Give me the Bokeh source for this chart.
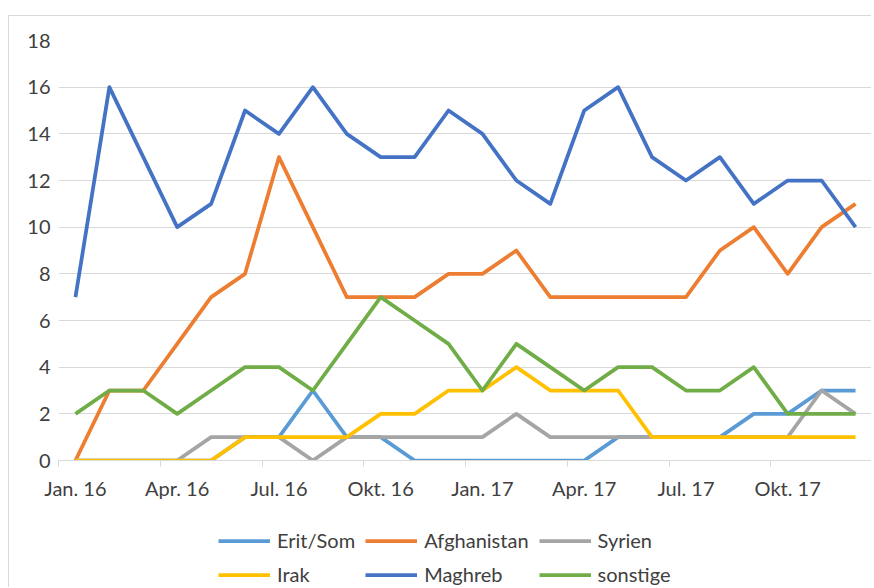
from bokeh.plotting import figure
from bokeh.models import FixedTicker, Legend, LegendItem, Range1d, Spacer
from bokeh.layouts import column, row
from bokeh.embed import file_html
from bokeh.resources import INLINE

months = ["Jan. 16", "Feb. 16", "Mär. 16", "Apr. 16", "Mai. 16", "Jun. 16",
          "Jul. 16", "Aug. 16", "Sep. 16", "Okt. 16", "Nov. 16", "Dez. 16",
          "Jan. 17", "Feb. 17", "Mär. 17", "Apr. 17", "Mai. 17", "Jun. 17",
          "Jul. 17", "Aug. 17", "Sep. 17", "Okt. 17", "Nov. 17", "Dez. 17"]

erit_som    = [0, 0, 0, 0, 0, 1, 1, 3, 1, 1, 0, 0, 0, 0, 0, 0, 1, 1, 1, 1, 2, 2, 3, 3]
afghanistan = [0, 3, 3, 5, 7, 8, 13, 10, 7, 7, 7, 8, 8, 9, 7, 7, 7, 7, 7, 9, 10, 8, 10, 11]
syrien      = [0, 0, 0, 0, 1, 1, 1, 0, 1, 1, 1, 1, 1, 2, 1, 1, 1, 1, 1, 1, 1, 1, 3, 2]
irak        = [0, 0, 0, 0, 0, 1, 1, 1, 1, 2, 2, 3, 3, 4, 3, 3, 3, 1, 1, 1, 1, 1, 1, 1]
maghreb     = [7, 16, 13, 10, 11, 15, 14, 16, 14, 13, 13, 15, 14, 12, 11, 15, 16, 13, 12, 13, 11, 12, 12, 10]
sonstige    = [2, 3, 3, 2, 3, 4, 4, 3, 5, 7, 6, 5, 3, 5, 4, 3, 4, 4, 3, 3, 4, 2, 2, 2]

series_names = ["Erit/Som", "Afghanistan", "Syrien", "Irak", "Maghreb", "sonstige"]
series_values = [erit_som, afghanistan, syrien, irak, maghreb, sonstige]
colors = ["#5B9BD5", "#ED7D31", "#A5A5A5", "#FFC000", "#4472C4", "#70AD47"]

y_ticks = list(range(0, 19, 2))
x_idx = list(range(len(months)))
label_idx = x_idx[::3]

FONT = "Lato"
FS = "20px"
TXT = "#404040"
BORDER = "#d9d9d9"
LW = 3.75
W = 863

p = figure(width=W, height=499, output_backend="svg", toolbar_location=None,
           x_range=Range1d(-0.5, len(months) - 0.5), y_range=Range1d(0, 18),
           min_border_left=49, min_border_right=0, min_border_top=24,
           min_border_bottom=55)
p.styles = {"border-left": "1px solid " + BORDER, "border-top": "1px solid " + BORDER}
p.outline_line_color = None

for name, vals, col in zip(series_names, series_values, colors):
    p.line(x_idx, vals, line_color=col, line_width=LW, line_join="round")

# x axis
p.xaxis.ticker = FixedTicker(ticks=label_idx,
                             minor_ticks=[i - 0.5 for i in range(0, len(months) + 1, 3)])
p.xaxis.major_label_overrides = {i: months[i] for i in label_idx}
p.xaxis.major_tick_out = 0
p.xaxis.major_tick_in = 0
p.xaxis.minor_tick_out = 6
p.xaxis.minor_tick_in = 0
p.xaxis.minor_tick_line_color = BORDER
p.xaxis.axis_line_color = BORDER
p.xaxis.major_label_text_font = FONT
p.xaxis.major_label_text_font_size = FS
p.xaxis.major_label_text_color = TXT
p.xaxis.major_label_standoff = 9

# y axis
p.yaxis.ticker = FixedTicker(ticks=y_ticks)
p.yaxis.axis_line_color = None
p.yaxis.major_tick_line_color = None
p.yaxis.minor_tick_line_color = None
p.yaxis.major_label_text_font = FONT
p.yaxis.major_label_text_font_size = FS
p.yaxis.major_label_text_color = TXT
p.yaxis.major_label_standoff = 2

p.xgrid.grid_line_color = None
p.ygrid.grid_line_color = BORDER

# legend in its own strip below the chart (series drawn out of view, only the legend shows)
lf = figure(width=W, height=73, output_backend="svg", toolbar_location=None,
            min_border=0, x_axis_type=None, y_axis_type=None,
            x_range=Range1d(-0.5, len(months) - 0.5), y_range=Range1d(100, 101))
lf.styles = {"border-left": "1px solid " + BORDER}
lf.grid.visible = False
lf.outline_line_color = None
items = []
for name, vals, col in zip(series_names, series_values, colors):
    r = lf.line(x_idx, vals, line_color=col, line_width=LW)
    items.append(LegendItem(label=name, renderers=[r]))

legend = Legend(items=items, orientation="horizontal", ncols=3, location=(160, 1),
                label_text_font=FONT, label_text_font_size=FS,
                label_text_color=TXT, glyph_width=52, glyph_height=19,
                label_height=19, label_standoff=7, spacing=10,
                padding=0, margin=0, border_line_color=None,
                background_fill_alpha=0)
lf.add_layout(legend, "center")

layout = row(Spacer(width=8, height=588),
             column(Spacer(width=W, height=15), p, lf, spacing=0),
             spacing=0)
open("out.html", "w").write(file_html(layout, INLINE))
